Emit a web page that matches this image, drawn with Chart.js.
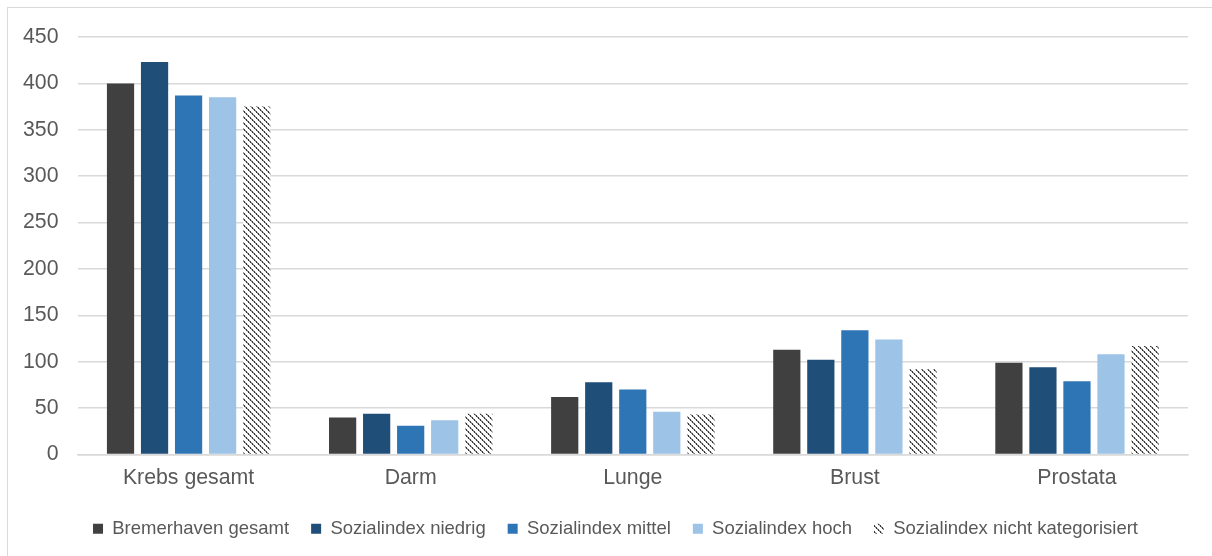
<!DOCTYPE html>
<html>
<head>
<meta charset="utf-8">
<script src="https://cdn.jsdelivr.net/npm/chart.js@4/dist/chart.umd.min.js"></script>
<style>
  html, body { margin: 0; padding: 0; background: #ffffff; overflow: hidden; }
  #wrap { position: relative; width: 1212px; height: 556px; }
  #frame { position: absolute; left: 7px; top: 7px; width: 1230px; height: 570px; border: 1px solid #d9d9d9; box-sizing: border-box; }
  canvas { position: absolute; left: 0; top: 0; }
</style>
</head>
<body>
<div id="wrap">
  <div id="frame"></div>
  <canvas id="c" width="1212" height="556"></canvas>
</div>
<script>
const categories = ["Krebs gesamt", "Darm", "Lunge", "Brust", "Prostata"];
const seriesNames = ["Bremerhaven gesamt", "Sozialindex niedrig", "Sozialindex mittel", "Sozialindex hoch", "Sozialindex nicht kategorisiert"];
const bremerhavenGesamt = [400, 40, 62, 113, 99];
const sozialNiedrig = [423, 44, 78, 102, 94];
const sozialMittel = [387, 31, 70, 134, 79];
const sozialHoch = [385, 37, 46, 124, 108];
const sozialNichtKat = [375, 44, 43, 92, 117];
const yTicks = [0, 50, 100, 150, 200, 250, 300, 350, 400, 450];

function makeHatch() {
  const p = document.createElement('canvas');
  p.width = 6; p.height = 6;
  const g = p.getContext('2d');
  g.fillStyle = '#ffffff';
  g.fillRect(0, 0, 6, 6);
  for (let i = 0; i < 6; i++) {
    g.fillStyle = (i % 2 === 0) ? '#303030' : '#8a8a8a';
    g.fillRect(i, i, 1, 1);
    g.fillStyle = (i % 2 === 0) ? '#9a9a9a' : '#404040';
    g.fillRect((i + 1) % 6, i, 1, 1);
  }
  return document.getElementById('c').getContext('2d').createPattern(p, 'repeat');
}
const hatch = makeHatch();

const colors = ['#404040', '#1f4e79', '#2e75b6', '#9dc3e6', hatch];
const values = [bremerhavenGesamt, sozialNiedrig, sozialMittel, sozialHoch, sozialNichtKat];

const datasets = seriesNames.map((n, i) => ({
  label: n,
  data: values[i],
  backgroundColor: colors[i],
  borderWidth: 0,
  barPercentage: 0.8,
  categoryPercentage: 0.766
}));

const FONT = '"Liberation Sans", Arial, sans-serif';

const legendShift = {
  id: 'legendShift',
  afterLayout(chart) {
    if (chart.legend) { chart.legend.left += 19.5; chart.legend.right += 19.5; }
  }
};

new Chart(document.getElementById('c'), {
  type: 'bar',
  data: { labels: categories, datasets },
  plugins: [legendShift],
  options: {
    responsive: false,
    animation: false,
    devicePixelRatio: 1,
    layout: { autoPadding: false, padding: { left: 4, right: 24, top: 37, bottom: 8 } },
    plugins: {
      tooltip: { enabled: false },
      legend: {
        position: 'bottom',
        labels: {
          boxWidth: 10,
          boxHeight: 10,
          padding: 22,
          color: '#595959',
          font: { family: FONT, size: 18.5 }
        }
      }
    },
    scales: {
      x: {
        grid: { display: false, drawTicks: false },
        border: { display: true, color: '#d9d9d9', width: 1.5 },
        afterFit: (s) => { s.height = 43; },
        ticks: {
          color: '#595959',
          padding: 11,
          font: { family: FONT, size: 21.3 }
        }
      },
      y: {
        min: 0,
        max: 450,
        afterBuildTicks: (s) => { s.ticks = yTicks.map(v => ({ value: v })); },
        grid: { color: '#d9d9d9', lineWidth: 1.5, drawTicks: false },
        border: { display: false },
        ticks: {
          color: '#595959',
          padding: 19,
          font: { family: FONT, size: 21.3 }
        }
      }
    }
  }
});
</script>
</body>
</html>
